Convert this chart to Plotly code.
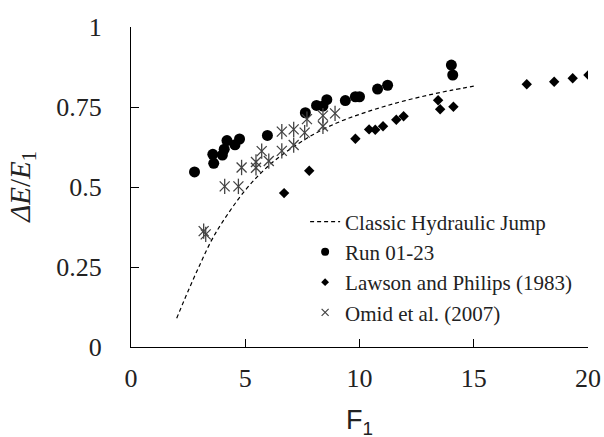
import plotly.graph_objects as go

# Classic hydraulic jump curve
classic_f = [2, 2.5, 3, 3.5, 4, 5, 6, 7, 8, 9, 10, 11, 12, 13, 14, 15]
classic_e = [0.09, 0.175, 0.255, 0.33, 0.39, 0.49, 0.565, 0.62, 0.665, 0.70,
             0.727, 0.75, 0.77, 0.787, 0.802, 0.815]

# Run 01-23
run_f = [2.78, 3.58, 3.62, 4.0, 4.08, 4.2, 4.55, 4.75, 5.97, 7.63, 8.12, 8.4,
         8.57, 9.38, 9.82, 10.0, 10.79, 11.23, 14.02, 14.08]
run_e = [0.547, 0.602, 0.574, 0.600, 0.618, 0.645, 0.632, 0.650, 0.661, 0.732,
         0.755, 0.753, 0.773, 0.770, 0.782, 0.782, 0.806, 0.818, 0.881, 0.850]

# Lawson and Philips (1983)
lawson_f = [6.7, 7.8, 9.82, 10.42, 10.69, 11.03, 11.61, 11.93, 13.44, 13.53,
            14.11, 17.32, 18.52, 19.33, 20.02]
lawson_e = [0.481, 0.551, 0.651, 0.680, 0.679, 0.690, 0.710, 0.721, 0.771,
            0.743, 0.751, 0.821, 0.829, 0.840, 0.850]

# Omid et al. (2007)
omid_f = [3.18, 3.27, 4.1, 4.7, 4.84, 5.47, 5.47, 5.72, 6.03, 6.6, 6.6, 7.12,
          7.12, 7.6, 7.7, 8.4, 8.4, 8.93]
omid_e = [0.362, 0.352, 0.502, 0.502, 0.561, 0.560, 0.578, 0.612, 0.581, 0.673,
          0.613, 0.680, 0.631, 0.670, 0.712, 0.723, 0.690, 0.730]

series_names = ["Classic Hydraulic Jump", "Run 01-23",
                "Lawson and Philips (1983)", "Omid et al. (2007)"]

x_ticks = [0, 5, 10, 15, 20]
y_ticks = [0, 0.25, 0.5, 0.75, 1]
y_ticktext = ["0", "0.25", "0.5", "0.75", "1"]
x_title = "F<sub>1</sub>"
y_title = "<i>ΔE</i>/<i>E</i><sub>1</sub>"

SERIF = "Liberation Serif"
SANS = "Liberation Sans"
TXT = "#222222"
STAR = "#444444"

fig = go.Figure()
# data traces
fig.add_trace(go.Scatter(
    x=classic_f, y=classic_e, mode="lines", line_shape="spline",
    name=series_names[0], showlegend=False,
    line=dict(color="black", width=1.2, dash="4px,3px")))
fig.add_trace(go.Scatter(
    x=run_f, y=run_e, mode="markers", name=series_names[1], showlegend=False,
    marker=dict(symbol="circle", size=11, color="black")))
fig.add_trace(go.Scatter(
    x=lawson_f, y=lawson_e, mode="markers", name=series_names[2],
    showlegend=False,
    marker=dict(symbol="diamond", size=8, color="black")))
fig.add_trace(go.Scatter(
    x=omid_f, y=omid_e, mode="markers", name=series_names[3],
    showlegend=False,
    marker=dict(symbol="x-thin-open", size=10, color=STAR,
                line=dict(color=STAR, width=1.3))))
fig.add_trace(go.Scatter(
    x=omid_f, y=omid_e, mode="markers", showlegend=False, hoverinfo="skip",
    marker=dict(symbol="line-ns-open", size=11, color=STAR,
                line=dict(color=STAR, width=1.3))))

# legend entries (smaller symbols, as in the reference legend)
fig.add_trace(go.Scatter(
    x=[None], y=[None], mode="lines", name=series_names[0],
    line=dict(color="black", width=1.2, dash="4px,3px")))
fig.add_trace(go.Scatter(
    x=[None], y=[None], mode="markers", name=series_names[1],
    marker=dict(symbol="circle", size=8, color="black")))
fig.add_trace(go.Scatter(
    x=[None], y=[None], mode="markers", name=series_names[2],
    marker=dict(symbol="diamond", size=6, color="black")))
fig.add_trace(go.Scatter(
    x=[None], y=[None], mode="markers", name=series_names[3],
    marker=dict(symbol="x-thin-open", size=7, color=STAR,
                line=dict(color=STAR, width=1.2))))

fig.update_layout(
    width=604, height=437,
    margin=dict(l=131, r=16, t=27, b=90),
    paper_bgcolor="white", plot_bgcolor="white",
    font=dict(family=SERIF, color=TXT),
    showlegend=True,
    legend=dict(
        x=0.381, y=0.455, xanchor="left", yanchor="top",
        bgcolor="rgba(0,0,0,0)", borderwidth=0,
        font=dict(family=SERIF, size=21, color=TXT),
        itemwidth=30, tracegroupgap=0,
    ),
    xaxis=dict(
        range=[0, 20], tickvals=x_ticks, ticks="inside", ticklen=8,
        tickcolor="black", tickwidth=1.2,
        showline=True, linecolor="black", linewidth=1.3,
        showgrid=False, zeroline=False, automargin=False,
        tickfont=dict(family=SERIF, size=26, color=TXT),
        ticklabelstandoff=8,
    ),
    yaxis=dict(
        range=[0, 1], tickvals=y_ticks, ticktext=y_ticktext,
        ticks="inside", ticklen=8, tickcolor="black", tickwidth=1.2,
        showline=True, linecolor="black", linewidth=1.3,
        showgrid=False, zeroline=False, automargin=False,
        tickfont=dict(family=SERIF, size=26, color=TXT),
        ticklabelstandoff=23,
    ),
    annotations=[
        dict(text=x_title, xref="paper", yref="paper", x=0.5, y=-0.233,
             xanchor="center", yanchor="middle", showarrow=False,
             font=dict(family=SANS, size=27, color=TXT)),
        dict(text=y_title, xref="paper", yref="paper", x=-0.239, y=0.5,
             xanchor="center", yanchor="middle", showarrow=False,
             textangle=-90,
             font=dict(family=SERIF, size=29, color=TXT)),
    ],
)

fig.write_html("out.html", config={"displayModeBar": False},
               post_script="document.body.style.margin='0px';")
